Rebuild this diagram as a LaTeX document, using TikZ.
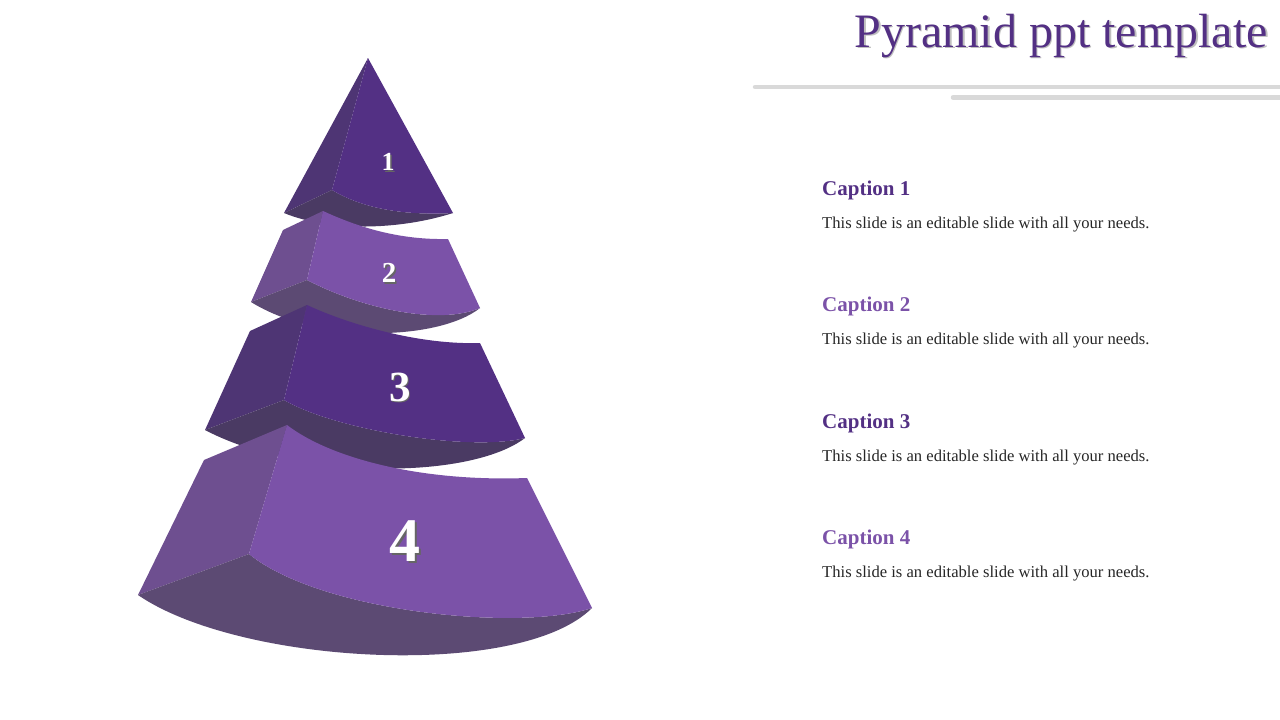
\documentclass[tikz,border=0pt]{standalone}
\usepackage{fontspec}
\setmainfont{Liberation Serif}
\definecolor{darkfront}{RGB}{83,48,132}
\definecolor{darkside}{RGB}{78,53,116}
\definecolor{darkbottom}{RGB}{74,58,99}
\definecolor{lightfront}{RGB}{123,82,168}
\definecolor{lightside}{RGB}{110,79,144}
\definecolor{lightbottom}{RGB}{92,74,115}
\definecolor{rulegray}{RGB}{217,217,217}
\newcommand{\shtext}[2]{\makebox[0pt][l]{\hspace{1.5pt}\raisebox{-1.5pt}{\textcolor{#1}{#2}}}#2}

\begin{document}
\begin{tikzpicture}[x=1pt,y=-1pt,
	num/.style={text=white,inner sep=0pt},
	captext/.style={anchor=base west,inner sep=0pt,font=\fontsize{21}{24}\selectfont\bfseries},
	bodytext/.style={anchor=base west,inner sep=0pt,text=black!85,font=\fontsize{16.6}{19}\selectfont},
	rule/.style={line width=4.5pt,draw=rulegray,line cap=round}]
					\useasboundingbox (0,0) rectangle (1280,720);
					\fill[darkside] (368,58) -- (332,190) -- (284,213) -- cycle;
					\fill[darkbottom] (284,213) -- (332,190) .. controls (360,207) and (400,216) .. (453,213) .. controls (400,230) and (330,232) .. (284,213) -- cycle;
					\fill[darkfront] (368,58) -- (453,213) .. controls (400,216) and (360,207) .. (332,190) -- cycle;
					\fill[lightside] (283,230) -- (323,211) -- (307,280) -- (251,302) -- cycle;
					\fill[lightbottom] (251,302) -- (307,280) .. controls (365,310) and (440,325) .. (480,308) .. controls (440,340) and (320,345) .. (251,302) -- cycle;
					\fill[lightfront] (323,211) .. controls (360,228) and (400,240) .. (448,239) -- (480,308) .. controls (440,325) and (365,310) .. (307,280) -- cycle;
					\fill[darkside] (250,331) -- (307,305) -- (284,400) -- (205,430) -- cycle;
					\fill[darkbottom] (205,430) -- (284,400) .. controls (335,430) and (470,452) .. (525,438) .. controls (470,480) and (300,480) .. (205,430) -- cycle;
					\fill[darkfront] (307,305) .. controls (350,325) and (420,345) .. (480,343) -- (525,438) .. controls (470,452) and (335,430) .. (284,400) -- cycle;
					\fill[lightside] (204,460) -- (287,425) -- (249,554) -- (138,595) -- cycle;
					\fill[lightbottom] (138,595) -- (249,554) .. controls (320,612) and (520,632) .. (592,608) .. controls (520,680) and (240,665) .. (138,595) -- cycle;
					\fill[lightfront] (287,425) .. controls (330,458) and (420,482) .. (527,478) -- (592,608) .. controls (520,632) and (320,612) .. (249,554) -- cycle;
					\node[num,font=\fontsize{26}{26}\selectfont\bfseries] (n1) at (388,163) {\shtext{black!60}{1}};
					\node[num,font=\fontsize{29}{29}\selectfont\bfseries] (n2) at (389,274) {\shtext{black!60}{2}};
					\node[num,font=\fontsize{43}{43}\selectfont\bfseries] (n3) at (400,388) {\shtext{black!60}{3}};
					\node[num,font=\fontsize{62}{62}\selectfont\bfseries] (n4) at (405,542) {\shtext{black!60}{4}};
					\node[anchor=base east,inner sep=0pt,text=darkfront,font=\fontsize{48}{52}\selectfont] (title) at (1268,47) {\shtext{black!25}{Pyramid ppt template}};
					\coordinate (r1a) at (755,87);
					\coordinate (r1b) at (1282,87);
					\coordinate (r2a) at (953,97.5);
					\coordinate (r2b) at (1282,97.5);
					\draw[rule] (r1a) -- (r1b);
					\draw[rule] (r2a) -- (r2b);
					\node[captext,text=darkfront] (c1) at (822,195) {Caption 1};
					\node[bodytext] (t1) at (822,228) {This slide is an editable slide with all your needs.};
					\node[captext,text=lightfront] (c2) at (822,311.5) {Caption 2};
					\node[bodytext] (t2) at (822,344.5) {This slide is an editable slide with all your needs.};
					\node[captext,text=darkfront] (c3) at (822,428) {Caption 3};
					\node[bodytext] (t3) at (822,461) {This slide is an editable slide with all your needs.};
					\node[captext,text=lightfront] (c4) at (822,544.5) {Caption 4};
					\node[bodytext] (t4) at (822,577.5) {This slide is an editable slide with all your needs.};
				\end{tikzpicture}
\end{document}
